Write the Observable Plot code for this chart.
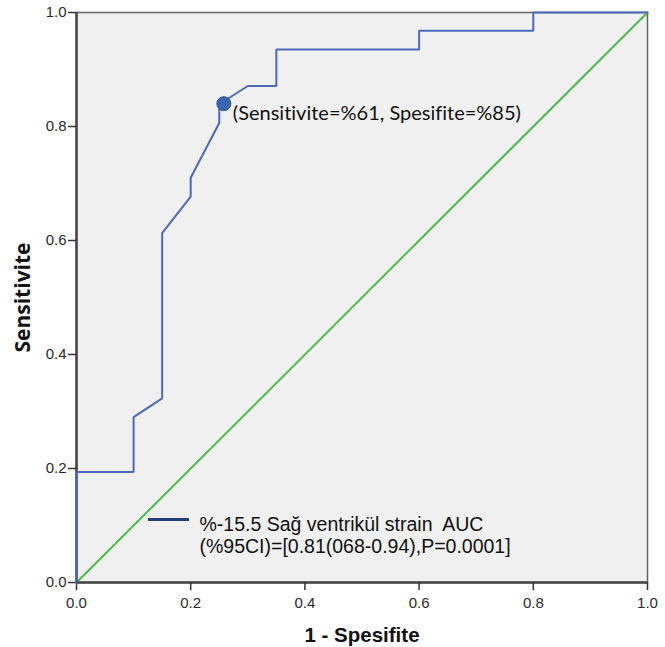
<!DOCTYPE html>
<html>
<head>
<meta charset="utf-8">
<script src="https://cdn.jsdelivr.net/npm/d3@7"></script>
<script src="https://cdn.jsdelivr.net/npm/@observablehq/plot@0.6"></script>
<style>
  body { margin: 0; background: white; }
  svg text, svg tspan { white-space: pre; font-variant-ligatures: none; font-feature-settings: "liga" 0; }
</style>
</head>
<body>
<div id="chart"></div>
<script>
// ROC curve points (1 - specificity, sensitivity)
const fpr  = [0, 0, 0.1, 0.1, 0.15, 0.15, 0.2, 0.2, 0.25, 0.25, 0.3, 0.35, 0.35, 0.6, 0.6, 0.8, 0.8, 1.0];
const sens = [0, 0.194, 0.194, 0.290, 0.323, 0.613, 0.677, 0.710, 0.806, 0.839, 0.871, 0.871, 0.935, 0.935, 0.968, 0.968, 1.0, 1.0];
// reference diagonal
const refX = [0, 1];
const refY = [0, 1];
// cut-off point
const cutFpr = [0.258];
const cutSens = [0.84];
const cutLabel = ["(Sensitivite=%61, Spesifite=%85)"];
// ticks
const tickValues = [0, 0.2, 0.4, 0.6, 0.8, 1.0];
// texts
const legendLines = ["%-15.5 Sağ ventrikül strain  AUC", "(%95CI)=[0.81(068-0.94),P=0.0001]"];
const xTitle = "1 - Spesifite";
const yTitle = "Sensitivite";

const roc = fpr.map((x, i) => ({fpr: x, sens: sens[i]}));
const ref = refX.map((x, i) => ({x, y: refY[i]}));
const cut = cutFpr.map((x, i) => ({x, y: cutSens[i], label: cutLabel[i]}));

const chart = Plot.plot({
  width: 665,
  height: 647,
  marginLeft: 76,
  marginRight: 18,
  marginTop: 12,
  marginBottom: 65,
  x: {domain: [0, 1]},
  y: {domain: [0, 1]},
  style: {background: "white", fontFamily: "'Liberation Sans', Arial, sans-serif", color: "#2a2a2a"},
  marks: [
    Plot.frame({fill: "#f0f0f0", stroke: "#666", strokeWidth: 1.5}),
    Plot.line(ref, {x: "x", y: "y", stroke: "#4cba47", strokeWidth: 2}),
    Plot.ruleX([0], {stroke: "#444", strokeWidth: 2.5}),
    Plot.ruleY([0], {stroke: "#444", strokeWidth: 2.5}),
    Plot.axisX({ticks: tickValues, tickFormat: ".1f", tickSize: 8, tickPadding: 7, fontSize: 15, label: null, stroke: "#333", strokeWidth: 1.5}),
    Plot.axisY({ticks: tickValues, tickFormat: ".1f", tickSize: 8, tickPadding: 2, fontSize: 15, label: null, stroke: "#333", strokeWidth: 1.5}),
    Plot.line(roc, {x: "fpr", y: "sens", stroke: "#4a6ab8", strokeWidth: 2, strokeLinejoin: "miter"}),
    Plot.dot(cut, {x: "x", y: "y", r: 7, fill: "#3b66b3", stroke: "#2d5296", strokeWidth: 1}),
    Plot.text(cut, {x: "x", y: "y", text: "label", dx: 9, dy: 10, textAnchor: "start", fontSize: 20, fill: "#111", fontFamily: "Lato, 'Open Sans', sans-serif"}),
    Plot.ruleY([0.1106], {x1: 0.126, x2: 0.198, stroke: "#233f7a", strokeWidth: 3}),
    Plot.text([legendLines.join("\n")], {x: 0.2154, y: 0.1176, textAnchor: "start", lineAnchor: "top", lineHeight: 1.13, fontSize: 19.5, fill: "#111"}),
    Plot.text([xTitle], {frameAnchor: "bottom", dy: 53, textAnchor: "middle", lineAnchor: "middle", fontSize: 20.5, fontWeight: "bold", fill: "#111"}),
    Plot.text([yTitle], {frameAnchor: "left", dx: -53, rotate: -90, textAnchor: "middle", lineAnchor: "middle", fontSize: 21, fontWeight: "bold", fill: "#111", fontFamily: "'Open Sans', sans-serif"})
  ]
});
document.getElementById("chart").appendChild(chart);
</script>
</body>
</html>
